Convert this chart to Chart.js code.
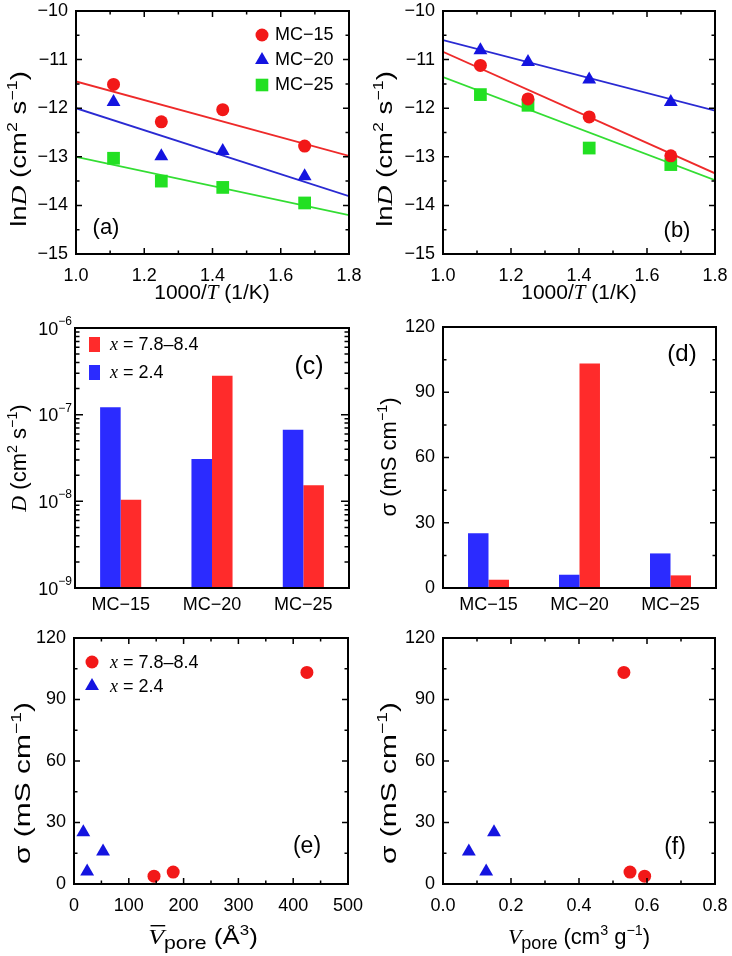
<!DOCTYPE html>
<html>
<head>
<meta charset="utf-8">
<script src="https://cdn.jsdelivr.net/npm/chart.js@4.4.1/dist/chart.umd.min.js"></script>
<style>
body { margin: 0; background: #fff; }
#fig { position: relative; width: 732px; height: 956px; }
#fig canvas { position: absolute; }
</style>
</head>
<body>
<div id="fig">
  <canvas id="pa" width="366" height="310" style="left:0;top:0"></canvas>
  <canvas id="pb" width="366" height="310" style="left:366px;top:0"></canvas>
  <canvas id="pc" width="366" height="320" style="left:0;top:310px"></canvas>
  <canvas id="pd" width="366" height="320" style="left:366px;top:310px"></canvas>
  <canvas id="pe" width="366" height="326" style="left:0;top:630px"></canvas>
  <canvas id="pf" width="366" height="326" style="left:366px;top:630px"></canvas>
</div>
<script>
// 1000/T values and fit range
var invT = [1.11, 1.25, 1.43, 1.67];
var fitX = [1.0, 1.8];

// panel (a) lnD
var a15 = [-11.51, -12.28, -12.03, -12.78];
var a20 = [-11.87, -12.99, -12.88, -13.40];
var a25 = [-13.03, -13.50, -13.63, -13.95];
var a15Fit = [-11.45, -12.98];
var a20Fit = [-12.00, -13.81];
var a25Fit = [-13.00, -14.20];

// panel (b) lnD
var b15 = [-11.12, -11.81, -12.18, -12.98];
var b20 = [-10.81, -11.05, -11.41, -11.87];
var b25 = [-11.72, -11.94, -12.82, -13.16];
var b15Fit = [-10.84, -13.34];
var b20Fit = [-10.60, -12.05];
var b25Fit = [-11.36, -13.48];

// panels (c), (d)
var samples = ['MC−15', 'MC−20', 'MC−25'];
var dLow = [1.22e-7, 3.08e-8, 6.7e-8];     // x = 2.4
var dHigh = [1.04e-8, 2.82e-7, 1.53e-8];   // x = 7.8–8.4
var sigLow = [25.2, 6.1, 15.9];
var sigHigh = [3.8, 103.2, 5.8];

// panels (e), (f)
var vbarLow = [17, 24, 53];
var vbarHigh = [146, 425, 181];
var vporeLow = [0.150, 0.127, 0.076];
var vporeHigh = [0.593, 0.532, 0.550];

var SANS = '"Liberation Sans", Arial, Helvetica, sans-serif';
var SERIF = '"Liberation Serif", "Times New Roman", serif';
var RED = '#f21818', BLUE = '#1414e0', GREEN = '#22e022';
var RED_LN = '#ee2a2a', BLUE_LN = '#2a2ad2', GREEN_LN = '#33dd33';
var RED_BAR = '#ff2b2b', BLUE_BAR = '#2b2bff';

var DECO = {};

function pts(xs, ys) {
    return xs.map(function (x, i) { return { x: x, y: ys[i] }; });
}

function fixY(w) {
    return function (s) { s.width = w; s.paddingTop = 0; s.paddingBottom = 0; };
}
function fixX(h) {
    return function (s) { s.height = h; s.paddingLeft = 0; s.paddingRight = 0; };
}

function minus(v) { return String(v).replace('-', '−'); }
function plain(v) { return String(v); }
var fmt1 = function (v) { return v.toFixed(1); };

function linAxis(min, max, step, fit, fmt, pad) {
    return {
        type: 'linear', min: min, max: max, afterFit: fit,
        ticks: { stepSize: step, autoSkip: false, maxRotation: 0, color: '#000',
                 font: { family: SANS, size: 18 }, padding: pad, callback: fmt },
        grid: { display: false, drawTicks: false },
        border: { display: false }
    };
}

// rich text: segs = [text, kind, shift]  kind s=sans, i=italic serif, o=italic serif with bar
// st = stretch along the text direction
function richText(ctx, segs, x, y, size, rot, align, st) {
    st = st || 1;
    ctx.save();
    ctx.translate(x, y);
    if (rot) ctx.rotate(-Math.PI / 2);
    ctx.scale(st, 1);
    var parts = segs.map(function (s) {
        var sz = s[2] === 1 ? size * 0.65 : s[2] === -1 ? size * 0.82 : size;
        var f = (s[1] === 's' ? '' : 'italic ') + sz + 'px ' + (s[1] === 's' ? SANS : SERIF);
        ctx.font = f;
        return { t: s[0], f: f, w: ctx.measureText(s[0]).width,
                 dy: s[2] === 1 ? -size * 0.42 : s[2] === -1 ? size * 0.25 : 0, bar: s[1] === 'o' };
    });
    var total = 0;
    parts.forEach(function (p) { total += p.w; });
    var cx = align === 'left' ? 0 : -total / 2;
    var base = size * 0.36;
    ctx.fillStyle = '#000';
    ctx.textBaseline = 'alphabetic';
    ctx.textAlign = 'left';
    parts.forEach(function (p) {
        ctx.font = p.f;
        ctx.fillText(p.t, cx, base + p.dy);
        if (p.bar) {
            ctx.fillRect(cx + 2, base - size * 0.86, p.w - 1, 1.4);
        }
        cx += p.w;
    });
    ctx.restore();
}

function mark(ctx, style, x, y, col) {
    ctx.fillStyle = col;
    ctx.beginPath();
    if (style === 'circle') {
        ctx.arc(x, y, 6.5, 0, 2 * Math.PI);
    } else if (style === 'triangle') {
        var r = 8;
        ctx.moveTo(x, y - r);
        ctx.lineTo(x + r * 0.866, y + r / 2);
        ctx.lineTo(x - r * 0.866, y + r / 2);
        ctx.closePath();
    } else {
        ctx.rect(x - 6.3, y - 6.3, 12.6, 12.6);
    }
    ctx.fill();
}

function label(ctx, t, x, y) {
    ctx.font = '18px ' + SANS;
    ctx.fillStyle = '#000';
    ctx.textAlign = 'left';
    ctx.textBaseline = 'middle';
    ctx.fillText(t, x, y);
}

var decor = {
    id: 'decor',
    afterDraw: function (chart) {
        var d = DECO[chart.canvas.id];
        var ctx = chart.ctx, a = chart.chartArea;
        var xs = chart.scales.x, ys = chart.scales.y;
        ctx.save();
        ctx.strokeStyle = '#000';
        ctx.lineWidth = 1.5;
        ctx.beginPath();
        if (d.xt) {
            var n = Math.round((d.xt[1] - d.xt[0]) / d.xt[3]);
            var ratio = Math.round(d.xt[2] / d.xt[3]);
            for (var i = 0; i <= n; i++) {
                var p = xs.getPixelForValue(d.xt[0] + i * d.xt[3]);
                var L = i % ratio === 0 ? 6 : 3.5;
                ctx.moveTo(p, a.bottom); ctx.lineTo(p, a.bottom - L);
                ctx.moveTo(p, a.top); ctx.lineTo(p, a.top + L);
            }
        }
        if (d.yt) {
            var m = Math.round((d.yt[1] - d.yt[0]) / d.yt[3]);
            var r2 = Math.round(d.yt[2] / d.yt[3]);
            for (var j = 0; j <= m; j++) {
                var q = ys.getPixelForValue(d.yt[0] + j * d.yt[3]);
                var L2 = j % r2 === 0 ? 6 : 3.5;
                ctx.moveTo(a.left, q); ctx.lineTo(a.left + L2, q);
                ctx.moveTo(a.right, q); ctx.lineTo(a.right - L2, q);
            }
        }
        if (d.ylog) {
            for (var e = -9; e <= -7; e++) {
                for (var k = 1; k <= 9; k++) {
                    var qq = ys.getPixelForValue(k * Math.pow(10, e));
                    var L3 = k === 1 ? 8 : 4.5;
                    ctx.moveTo(a.left, qq); ctx.lineTo(a.left + L3, qq);
                    ctx.moveTo(a.right, qq); ctx.lineTo(a.right - L3, qq);
                }
            }
        }
        ctx.stroke();
        // log tick labels 10^n
        if (d.ylog) {
            for (var ex = -9; ex <= -6; ex++) {
                var py = ys.getPixelForValue(Math.pow(10, ex));
                ctx.fillStyle = '#000';
                ctx.textBaseline = 'alphabetic';
                ctx.textAlign = 'right';
                ctx.font = '12px ' + SANS;
                var sup = '−' + (-ex);
                var sw = ctx.measureText(sup).width;
                ctx.fillText(sup, a.left - 3, py - 3);
                ctx.font = '18px ' + SANS;
                ctx.fillText('10', a.left - 3 - sw, py + 6.5);
            }
        }
        // frame
        ctx.lineWidth = 2;
        ctx.strokeRect(a.left, a.top, a.right - a.left, a.bottom - a.top);
        if (d.xTitle) richText(ctx, d.xTitle[0], d.xTitle[1], d.xTitle[2], d.xTitle[3], false, 'center', d.xTitle[4]);
        if (d.yTitle) richText(ctx, d.yTitle[0], d.yTitle[1], d.yTitle[2], d.yTitle[3], true, 'center', d.yTitle[4]);
        ctx.font = (d.letter[3] || 22) + 'px ' + SANS;
        ctx.fillStyle = '#000';
        ctx.textAlign = 'center';
        ctx.textBaseline = 'middle';
        ctx.fillText(d.letter[0], d.letter[1], d.letter[2]);
        if (d.legend) d.legend(ctx);
        ctx.restore();
    }
};

function makeChart(id, type, data, scales, pad) {
    return new Chart(document.getElementById(id), {
        type: type,
        data: data,
        options: {
            responsive: false, animation: false, events: [],
            layout: { padding: pad },
            plugins: { legend: { display: false }, tooltip: { enabled: false } },
            scales: scales
        },
        plugins: [decor]
    });
}

function ptSet(xs, ys, col, style, r) {
    return { data: pts(xs, ys), pointStyle: style, pointRadius: r, pointBackgroundColor: col,
             pointBorderWidth: 0, borderWidth: 0, showLine: false, order: 1 };
}
function lnSet(ys, col) {
    return { data: pts(fitX, ys), showLine: true, borderColor: col, borderWidth: 1.8,
             pointRadius: 0, order: 2 };
}

var lnDTitle = [['ln', 's'], ['D', 'i'], [' (cm', 's'], ['2', 's', 1], [' s', 's'], ['−1', 's', 1], [')', 's']];
var invTTitle = [['1000/', 's'], ['T', 'i'], [' (1/K)', 's']];
var sigTitle = [['σ (mS cm', 's'], ['−1', 's', 1], [')', 's']];

// (a)
DECO.pa = {
    xt: [1.0, 1.8, 0.2, 0.1], yt: [-15, -10, 1, 0.5],
    xTitle: [invTTitle, 212, 291, 21, 1], yTitle: [lnDTitle, 18, 149, 22, 1.25], letter: ['(a)', 106, 228],
    legend: function (ctx) {
        mark(ctx, 'circle', 262, 35, RED); label(ctx, 'MC−15', 275, 35);
        mark(ctx, 'triangle', 262, 60, BLUE); label(ctx, 'MC−20', 275, 60);
        mark(ctx, 'rect', 262, 85, GREEN); label(ctx, 'MC−25', 275, 85);
    }
};
makeChart('pa', 'scatter', { datasets: [
    ptSet(invT, a15, RED, 'circle', 6.5), ptSet(invT, a20, BLUE, 'triangle', 8), ptSet(invT, a25, GREEN, 'rect', 9),
    lnSet(a15Fit, RED_LN), lnSet(a20Fit, BLUE_LN), lnSet(a25Fit, GREEN_LN)
] }, {
    x: linAxis(1.0, 1.8, 0.2, fixX(56), fmt1, 11),
    y: linAxis(-15, -10, 1, fixY(76), minus, 8)
}, { top: 11, right: 17, left: 0, bottom: 0 });

// (b)
DECO.pb = {
    xt: [1.0, 1.8, 0.2, 0.1], yt: [-15, -10, 1, 0.5],
    xTitle: [invTTitle, 213, 291, 21, 1], yTitle: [lnDTitle, 18, 149, 22, 1.25], letter: ['(b)', 311, 231]
};
makeChart('pb', 'scatter', { datasets: [
    ptSet(invT, b15, RED, 'circle', 6.5), ptSet(invT, b20, BLUE, 'triangle', 8), ptSet(invT, b25, GREEN, 'rect', 9),
    lnSet(b15Fit, RED_LN), lnSet(b20Fit, BLUE_LN), lnSet(b25Fit, GREEN_LN)
] }, {
    x: linAxis(1.0, 1.8, 0.2, fixX(56), fmt1, 11),
    y: linAxis(-15, -10, 1, fixY(77), minus, 8)
}, { top: 11, right: 17, left: 0, bottom: 0 });

function catAxis(fit) {
    return { type: 'category', afterFit: fit,
             ticks: { color: '#000', font: { family: SANS, size: 18 }, padding: 6, maxRotation: 0 },
             grid: { display: false, drawTicks: false }, border: { display: false } };
}
function barSets(low, high) {
    return [
        { label: 'x = 2.4', data: low, backgroundColor: BLUE_BAR, categoryPercentage: 0.45, barPercentage: 1 },
        { label: 'x = 7.8–8.4', data: high, backgroundColor: RED_BAR, categoryPercentage: 0.45, barPercentage: 1 }
    ];
}

// (c)
DECO.pc = {
    ylog: true,
    yTitle: [[['D', 'i'], [' (cm', 's'], ['2', 's', 1], [' s', 's'], ['−1', 's', 1], [')', 's']], 18, 148, 22, 1],
    letter: ['(c)', 309, 57, 25],
    legend: function (ctx) {
        ctx.fillStyle = RED_BAR; ctx.fillRect(89, 27, 11, 15);
        ctx.fillStyle = BLUE_BAR; ctx.fillRect(89, 55, 11, 15);
        richText(ctx, [['x', 'i'], [' = 7.8–8.4', 's']], 110, 34, 18, false, 'left');
        richText(ctx, [['x', 'i'], [' = 2.4', 's']], 110, 62, 18, false, 'left');
    }
};
makeChart('pc', 'bar', { labels: samples, datasets: barSets(dLow, dHigh) }, {
    x: catAxis(fixX(42)),
    y: { type: 'logarithmic', min: 1e-9, max: 1e-6, afterFit: fixY(75),
         ticks: { display: false }, grid: { display: false, drawTicks: false }, border: { display: false } }
}, { top: 18, right: 17, left: 0, bottom: 0 });

// (d)
DECO.pd = {
    yt: [0, 120, 30, 15],
    yTitle: [sigTitle, 22, 147, 22, 1], letter: ['(d)', 316, 44, 24]
};
makeChart('pd', 'bar', { labels: samples, datasets: barSets(sigLow, sigHigh) }, {
    x: catAxis(fixX(42)),
    y: linAxis(0, 120, 30, fixY(77), plain, 8)
}, { top: 17, right: 16, left: 0, bottom: 0 });

// (e)
DECO.pe = {
    xt: [0, 500, 100, 50], yt: [0, 120, 30, 15],
    xTitle: [[['V', 'o'], ['pore', 's', -1], [' (Å', 's'], ['3', 's', 1], [')', 's']], 203, 306, 22, 1.18],
    yTitle: [sigTitle, 22, 153, 22, 1.36], letter: ['(e)', 307, 217, 23],
    legend: function (ctx) {
        mark(ctx, 'circle', 92, 32, RED);
        richText(ctx, [['x', 'i'], [' = 7.8–8.4', 's']], 110, 32, 18, false, 'left');
        mark(ctx, 'triangle', 92, 56, BLUE);
        richText(ctx, [['x', 'i'], [' = 2.4', 's']], 110, 56, 18, false, 'left');
    }
};
makeChart('pe', 'scatter', { datasets: [
    ptSet(vbarHigh, sigHigh, RED, 'circle', 6.5), ptSet(vbarLow, sigLow, BLUE, 'triangle', 8)
] }, {
    x: linAxis(0, 500, 100, fixX(72), plain, 11),
    y: linAxis(0, 120, 30, fixY(74), plain, 8)
}, { top: 8, right: 18, left: 0, bottom: 0 });

// (f)
DECO.pf = {
    xt: [0, 0.8, 0.2, 0.1], yt: [0, 120, 30, 15],
    xTitle: [[['V', 'i'], ['pore', 's', -1], [' (cm', 's'], ['3', 's', 1], [' g', 's'], ['−1', 's', 1], [')', 's']], 213, 306, 22, 1],
    yTitle: [sigTitle, 22, 153, 22, 1.36], letter: ['(f)', 309, 218, 23]
};
makeChart('pf', 'scatter', { datasets: [
    ptSet(vporeHigh, sigHigh, RED, 'circle', 6.5), ptSet(vporeLow, sigLow, BLUE, 'triangle', 8)
] }, {
    x: linAxis(0, 0.8, 0.2, fixX(72), fmt1, 11),
    y: linAxis(0, 120, 30, fixY(77), plain, 8)
}, { top: 8, right: 17, left: 0, bottom: 0 });
</script>
</body>
</html>
